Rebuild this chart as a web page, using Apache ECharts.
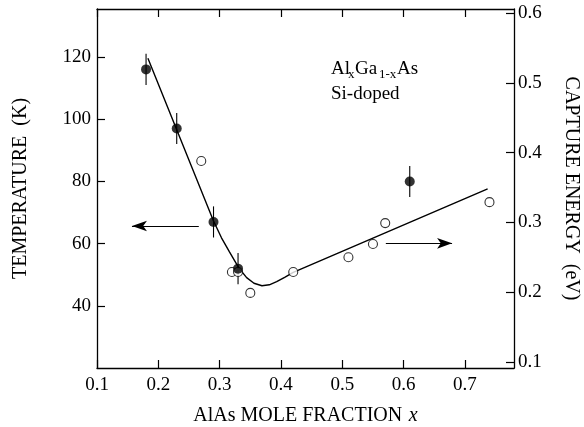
<!DOCTYPE html>
<html>
<head>
<meta charset="utf-8">
<script src="https://cdn.jsdelivr.net/npm/echarts@6/dist/echarts.min.js"></script>
<style>
  html, body { margin: 0; padding: 0; background: #fff; }
  #chart { width: 584px; height: 427px; }
</style>
</head>
<body>
<div id="chart"></div>
<script>
// Axis tick values
const xTicks = [0.1, 0.2, 0.3, 0.4, 0.5, 0.6, 0.7];
const tempTicks = [40, 60, 80, 100, 120];
const energyTicks = [0.1, 0.2, 0.3, 0.4, 0.5, 0.6];

// Temperature peaks (filled circles, left axis) with error bars
const tempX = [0.18, 0.23, 0.29, 0.33, 0.61];
const tempK = [116, 97, 67, 52, 80];
const tempErr = [5, 5, 5, 5, 5];

// Capture energies (open circles, right axis)
const energyX = [0.27, 0.32, 0.33, 0.35, 0.42, 0.51, 0.55, 0.57, 0.74];
const energyEv = [0.388, 0.229, 0.229, 0.199, 0.229, 0.250, 0.269, 0.299, 0.329];

// Guide curve through the data (left-axis units): straight fall, rounded minimum, straight rise
const fitX = [0.183, 0.29, 0.303, 0.316, 0.331, 0.344, 0.356, 0.369, 0.381, 0.393, 0.406, 0.42, 0.737];
const fitK = [119.6, 67.3, 61.9, 57.4, 52.3, 49.1, 47.3, 46.5, 46.8, 47.8, 49.2, 50.8, 77.6];

// Axis-pointing arrows
const arrowTempX = [0.266, 0.157];
const arrowTempK = [65.7, 65.7];
const arrowEnergyX = [0.571, 0.679];
const arrowEnergyEv = [0.270, 0.270];

const FONT = 'Liberation Serif';
const INK = '#000';

const zip = (a, b) => a.map((v, i) => [v, b[i]]);

const baseAxisLine = { show: true, lineStyle: { color: INK, width: 1.3 } };

function xAxisCfg(pos, showLabels) {
  return {
    type: 'value', position: pos, min: 0.1, max: 0.78,
    axisLine: baseAxisLine,
    axisTick: { show: true, inside: true, length: 8, customValues: xTicks, lineStyle: { color: INK, width: 1.2 } },
    axisLabel: {
      show: showLabels, customValues: xTicks, margin: 8,
      formatter: v => v.toFixed(1),
      fontFamily: FONT, fontSize: 19, color: INK
    },
    splitLine: { show: false }
  };
}

const chart = echarts.init(document.getElementById('chart'), null, { renderer: 'canvas' });

chart.setOption({
  animation: false,
  backgroundColor: '#fff',
  grid: { left: 97, right: 70, top: 9, bottom: 59, containLabel: false, outerBoundsMode: 'none' },
  xAxis: [
    Object.assign(xAxisCfg('bottom', true), {
      name: '{n|AlAs MOLE FRACTION}  {i|x}',
      nameLocation: 'middle', nameGap: 38,
      nameTextStyle: {
        rich: {
          n: { fontFamily: FONT, fontSize: 20, color: INK },
          i: { fontFamily: FONT, fontSize: 20, fontStyle: 'italic', color: INK }
        }
      }
    }),
    xAxisCfg('top', false)
  ],
  yAxis: [
    {
      type: 'value', position: 'left', min: 20.08, max: 135.4,
      axisLine: baseAxisLine,
      axisTick: { show: true, inside: true, length: 8, customValues: tempTicks, lineStyle: { color: INK, width: 1.2 } },
      axisLabel: { customValues: tempTicks, margin: 6, fontFamily: FONT, fontSize: 19, color: INK },
      splitLine: { show: false },
      name: 'TEMPERATURE  (K)', nameLocation: 'middle', nameGap: 66, nameRotate: 90,
      nameTextStyle: { fontFamily: FONT, fontSize: 20, color: INK }
    },
    {
      type: 'value', position: 'right', min: 0.0914, max: 0.6057,
      axisLine: baseAxisLine,
      axisTick: { show: true, inside: true, length: 8, customValues: energyTicks, lineStyle: { color: INK, width: 1.2 } },
      axisLabel: { customValues: energyTicks, margin: 4, formatter: v => v.toFixed(1), fontFamily: FONT, fontSize: 19, color: INK },
      splitLine: { show: false },
      name: 'CAPTURE ENERGY  (eV)', nameLocation: 'middle', nameGap: 47, nameRotate: -90,
      nameTextStyle: { fontFamily: FONT, fontSize: 20, color: INK }
    }
  ],
  graphic: [
    {
      type: 'group', left: 331, top: 60,
      children: [
        { type: 'text', x: 0, y: 0, style: { text: 'Al', font: '19px ' + FONT, fill: INK } },
        { type: 'text', x: 17, y: 8, style: { text: 'x', font: '13px ' + FONT, fill: INK } },
        { type: 'text', x: 24, y: 0, style: { text: 'Ga', font: '19px ' + FONT, fill: INK } },
        { type: 'text', x: 48, y: 8, style: { text: '1-x', font: '13px ' + FONT, fill: INK } },
        { type: 'text', x: 66, y: 0, style: { text: 'As', font: '19px ' + FONT, fill: INK } },
        { type: 'text', x: 0, y: 25, style: { text: 'Si-doped', font: '19px ' + FONT, fill: INK } }
      ]
    }
  ],
  series: [
    {
      name: 'fit', type: 'line', xAxisIndex: 0, yAxisIndex: 0,
      data: zip(fitX, fitK), smooth: false,
      showSymbol: false, symbol: 'none',
      lineStyle: { color: INK, width: 1.4 }, z: 2,
      markLine: {
        silent: true, symbol: ['none', 'arrow'], symbolSize: [8, 15],
        label: { show: false },
        lineStyle: { color: INK, width: 1.2, type: 'solid' },
        data: [[{ coord: [arrowTempX[0], arrowTempK[0]] }, { coord: [arrowTempX[1], arrowTempK[1]] }]]
      }
    },
    {
      name: 'errors', type: 'custom', xAxisIndex: 0, yAxisIndex: 0,
      data: tempX.map((x, i) => [x, tempK[i], tempErr[i]]),
      renderItem: (params, api) => {
        const x = api.value(0), y = api.value(1), e = api.value(2);
        const p1 = api.coord([x, y - e]);
        const p2 = api.coord([x, y + e]);
        return {
          type: 'line',
          shape: { x1: p1[0], y1: p1[1], x2: p2[0], y2: p2[1] },
          style: { stroke: INK, lineWidth: 1.1 }
        };
      },
      z: 3
    },
    {
      name: 'energy', type: 'scatter', xAxisIndex: 0, yAxisIndex: 1,
      data: zip(energyX, energyEv), symbol: 'circle', symbolSize: 9,
      itemStyle: { color: '#fff', borderColor: INK, borderWidth: 1.1 }, z: 4,
      markLine: {
        silent: true, symbol: ['none', 'arrow'], symbolSize: [8, 15],
        label: { show: false },
        lineStyle: { color: INK, width: 1.2, type: 'solid' },
        data: [[{ coord: [arrowEnergyX[0], arrowEnergyEv[0]] }, { coord: [arrowEnergyX[1], arrowEnergyEv[1]] }]]
      }
    },
    {
      name: 'temperature', type: 'scatter', xAxisIndex: 0, yAxisIndex: 0,
      data: zip(tempX, tempK), symbol: 'circle', symbolSize: 10,
      itemStyle: { color: INK }, z: 5
    }
  ]
});
</script>
</body>
</html>
